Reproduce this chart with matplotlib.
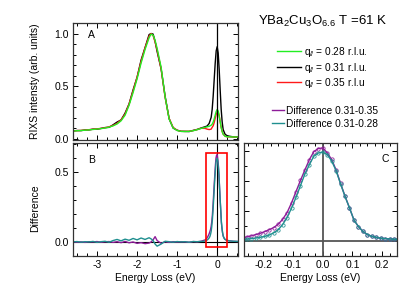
import numpy as np
import matplotlib
matplotlib.use("Agg")
import matplotlib.pyplot as plt
from matplotlib.lines import Line2D
from matplotlib.patches import Rectangle
from matplotlib.ticker import MultipleLocator

plt.rcParams["font.family"] = ["Liberation Sans", "DejaVu Sans"]
plt.rcParams["mathtext.fontset"] = "custom"
plt.rcParams["mathtext.rm"] = "Liberation Sans"
plt.rcParams["mathtext.it"] = "Liberation Sans:italic"

# energy loss grid, wide part (eV)
e_wide = [-3.6, -3.5, -3.4, -3.3, -3.2, -3.1, -3.0, -2.9, -2.8, -2.7, -2.6, -2.5,
          -2.4, -2.3, -2.2, -2.1, -2.0, -1.9, -1.8, -1.7, -1.65, -1.6, -1.55, -1.5,
          -1.4, -1.3, -1.2, -1.1, -1.0, -0.9, -0.8, -0.7, -0.6, -0.5, -0.4]
# spectra near the elastic line
e_spec_peak = [-0.3, -0.25, -0.2, -0.15, -0.125, -0.1, -0.075, -0.05, -0.025, 0.0,
               0.025, 0.05, 0.075, 0.1, 0.125, 0.15, 0.2, 0.25, 0.3, 0.4, 0.52]

q028_wide = [0.075, 0.078, 0.080, 0.083, 0.086, 0.090, 0.094, 0.098, 0.104, 0.112, 0.124, 0.142,
             0.172, 0.225, 0.320, 0.440, 0.570, 0.720, 0.850, 0.960, 0.995, 0.985, 0.935, 0.860,
             0.680, 0.400, 0.190, 0.105, 0.080, 0.072, 0.070, 0.072, 0.078, 0.088, 0.100]
q028_peak = [0.110, 0.115, 0.120, 0.130, 0.140, 0.160, 0.190, 0.225, 0.260, 0.280,
             0.265, 0.220, 0.165, 0.110, 0.070, 0.045, 0.025, 0.021, 0.020, 0.019, 0.019]

q031_wide = [0.076, 0.080, 0.079, 0.085, 0.086, 0.093, 0.092, 0.100, 0.108, 0.110, 0.134, 0.160,
             0.180, 0.245, 0.332, 0.465, 0.585, 0.748, 0.868, 0.990, 1.000, 0.995, 0.925, 0.830,
             0.665, 0.405, 0.192, 0.103, 0.083, 0.072, 0.072, 0.070, 0.081, 0.090, 0.104]
q031_peak = [0.116, 0.123, 0.147, 0.205, 0.280, 0.405, 0.560, 0.715, 0.835, 0.875,
             0.815, 0.660, 0.463, 0.280, 0.160, 0.088, 0.043, 0.031, 0.026, 0.020, 0.019]

q035_wide = [0.076, 0.079, 0.081, 0.084, 0.088, 0.092, 0.096, 0.100, 0.106, 0.115, 0.128, 0.148,
             0.180, 0.235, 0.330, 0.455, 0.585, 0.735, 0.865, 0.975, 1.000, 0.980, 0.920, 0.845,
             0.665, 0.395, 0.195, 0.110, 0.082, 0.073, 0.071, 0.073, 0.079, 0.089, 0.101]
q035_peak = [0.100, 0.093, 0.089, 0.093, 0.110, 0.125, 0.155, 0.195, 0.235, 0.253,
             0.255, 0.220, 0.163, 0.110, 0.070, 0.045, 0.025, 0.020, 0.020, 0.019, 0.019]

# difference spectra, fine grid around zero loss
e_diff_peak = [-0.300, -0.285, -0.270, -0.255, -0.240, -0.225, -0.210, -0.195, -0.180, -0.165,
               -0.150, -0.135, -0.120, -0.105, -0.090, -0.075, -0.060, -0.045, -0.030, -0.015,
               0.000, 0.015, 0.030, 0.045, 0.060, 0.075, 0.090, 0.105, 0.120, 0.135,
               0.150, 0.165, 0.180, 0.195, 0.210, 0.225, 0.240, 0.255, 0.270, 0.285, 0.300,
               0.4, 0.52]

d3135_wide = [0.002, -0.002, 0.001, -0.003, 0.002, 0.000, 0.003, -0.002, 0.001, 0.003, -0.003, 0.002,
              -0.005, 0.004, -0.006, 0.000, -0.010, -0.005, -0.012, -0.008, 0.000, 0.015, 0.038, 0.010,
              -0.010, 0.002, -0.003, 0.002, -0.001, 0.002, 0.000, -0.002, 0.003, 0.001, 0.005]
d3135_peak = [0.015, 0.018, 0.022, 0.028, 0.035, 0.043, 0.052, 0.063, 0.076, 0.090,
              0.112, 0.145, 0.190, 0.255, 0.330, 0.405, 0.475, 0.544, 0.597, 0.618,
              0.622, 0.590, 0.545, 0.475, 0.385, 0.300, 0.222, 0.141, 0.097, 0.065,
              0.043, 0.032, 0.024, 0.019, 0.016, 0.014, 0.012, 0.011, 0.010, 0.009, 0.008,
              0.005, 0.003]

d3128_wide = [0.000, 0.003, -0.002, 0.002, 0.000, 0.004, -0.003, 0.002, 0.005, -0.002, 0.010, 0.018,
              0.008, 0.020, 0.012, 0.025, 0.015, 0.028, 0.018, 0.030, 0.022, 0.010, -0.015, -0.030,
              -0.015, 0.005, 0.002, -0.002, 0.003, 0.000, 0.002, -0.002, 0.003, 0.002, 0.004]
d3128_peak = [0.006, 0.008, 0.010, 0.013, 0.016, 0.020, 0.025, 0.031, 0.040, 0.055,
              0.075, 0.110, 0.157, 0.220, 0.292, 0.370, 0.448, 0.510, 0.567, 0.588,
              0.595, 0.578, 0.535, 0.470, 0.382, 0.298, 0.222, 0.141, 0.097, 0.065,
              0.043, 0.032, 0.024, 0.019, 0.016, 0.014, 0.012, 0.011, 0.010, 0.009, 0.008,
              0.005, 0.004]

e_spec = np.array(e_wide + e_spec_peak)
e_diff = np.array(e_wide + e_diff_peak)
q028 = np.array(q028_wide + q028_peak)
q031 = np.array(q031_wide + q031_peak)
q035 = np.array(q035_wide + q035_peak)
d3135 = np.array(d3135_wide + d3135_peak)
d3128 = np.array(d3128_wide + d3128_peak)

c_green = "#22ee22"
c_red = "#ff1a1a"
c_purple = "#8e1c99"
c_teal = "#1f8f8f"

fs = 7.5
W, H = 415, 294
fig = plt.figure(figsize=(W / 100, H / 100), dpi=100)


def box(l, t, r, b):
    return [l / W, 1 - b / H, (r - l) / W, (b - t) / H]


axA = fig.add_axes(box(73, 23, 238, 140))
axB = fig.add_axes(box(73, 143, 238, 256))
axC = fig.add_axes(box(244, 143, 397, 256))

for ax in (axA, axB, axC):
    ax.tick_params(which="both", direction="in", top=True, right=True, labelsize=fs,
                   width=0.7, pad=3)
    ax.tick_params(which="major", length=3.5)
    ax.tick_params(which="minor", length=2)
    for s in ax.spines.values():
        s.set_linewidth(0.9)
        s.set_color("#333333")

# panel A
axA.plot(e_spec, q031, color="black", lw=1.0)
axA.plot(e_spec, q035, color=c_red, lw=1.0)
axA.plot(e_spec, q028, color=c_green, lw=1.0)
axA.axvline(0, color="black", lw=0.9)
axA.set_xlim(-3.6, 0.52)
axA.set_ylim(-0.01, 1.1)
axA.xaxis.set_major_locator(MultipleLocator(1))
axA.xaxis.set_minor_locator(MultipleLocator(0.25))
axA.yaxis.set_minor_locator(MultipleLocator(0.1))
axA.set_yticks([0, 0.5, 1.0], ["0.0", "0.5", "1.0"])
axA.tick_params(labelbottom=False)
axA.set_ylabel("RIXS intensty (arb. units)", fontsize=fs)
axA.yaxis.set_label_coords(-0.2, 0.5)
axA.text(0.09, 0.87, "A", transform=axA.transAxes, fontsize=fs)

# panel B
axB.axhline(0, color="black", lw=0.8)
axB.axvline(0, color="black", lw=0.8)
axB.plot(e_diff, d3135, color=c_purple, lw=1.0)
axB.plot(e_diff, d3128, color=c_teal, lw=1.0)
axB.add_patch(Rectangle((-0.275, -0.038), 0.525, 0.674, fill=False,
                        edgecolor="red", lw=1.2, zorder=5))
axB.set_xlim(-3.6, 0.52)
axB.set_ylim(-0.1, 0.705)
axB.xaxis.set_minor_locator(MultipleLocator(0.25))
axB.set_yticks([0, 0.5], ["0.0", "0.5"])
axB.yaxis.set_minor_locator(MultipleLocator(0.1))
axB.set_xticks([-3, -2, -1, 0], ["-3", "-2", "-1", "0"])
axB.set_xlabel("Energy Loss (eV)", fontsize=fs, labelpad=2)
axB.set_ylabel("Difference", fontsize=fs)
axB.yaxis.set_label_coords(-0.2, 0.42)
axB.text(0.09, 0.82, "B", transform=axB.transAxes, fontsize=fs)

# panel C
axC.axhline(0, color="#555555", lw=1.3)
axC.axvline(0, color="#555555", lw=1.3)
axC.plot(e_diff, d3135, color=c_purple, lw=1.0, marker="o", ms=2.4,
         mfc="none", mew=0.55)
axC.plot(e_diff, d3128, color=c_teal, lw=1.0, marker="o", ms=2.4,
         mfc="none", mew=0.55)
axC.set_xlim(-0.265, 0.25)
axC.set_ylim(-0.1, 0.655)
axC.set_xticks([-0.2, -0.1, 0.0, 0.1, 0.2], ["-0.2", "-0.1", "0.0", "0.1", "0.2"])
axC.xaxis.set_minor_locator(MultipleLocator(0.025))
axC.yaxis.set_major_locator(MultipleLocator(0.2))
axC.yaxis.set_minor_locator(MultipleLocator(0.1))
axC.tick_params(labelleft=False)
axC.set_xlabel("Energy Loss (eV)", fontsize=fs, labelpad=2)
axC.text(0.9, 0.83, "C", transform=axC.transAxes, fontsize=fs)

# title and legends
fig.text(323 / W, 1 - 21 / H, r"YBa$_2$Cu$_3$O$_{6.6}$ T =61 K", fontsize=9.5,
         ha="center", va="center")

h1 = [Line2D([], [], color=c_green, lw=1.0),
      Line2D([], [], color="black", lw=1.0),
      Line2D([], [], color=c_red, lw=1.0)]
l1 = [r"q$_{/\!/}$ = 0.28 r.l.u.", r"q$_{/\!/}$ = 0.31 r.l.u.", r"q$_{/\!/}$ = 0.35 r.l.u"]
fig.legend(h1, l1, loc="upper left", bbox_to_anchor=(277 / W, 1 - 45 / H),
           frameon=False, fontsize=7.3, handlelength=2.4, handletextpad=0.25,
           labelspacing=0.15, borderpad=0, borderaxespad=0)

h2 = [Line2D([], [], color=c_purple, lw=1.0),
      Line2D([], [], color=c_teal, lw=1.0)]
l2 = ["Difference 0.31-0.35", "Difference 0.31-0.28"]
fig.legend(h2, l2, loc="upper left", bbox_to_anchor=(272 / W, 1 - 106 / H),
           frameon=False, fontsize=7.3, handlelength=1.2, handletextpad=0.2,
           labelspacing=0.3, borderpad=0, borderaxespad=0)

fig.savefig("out.png", dpi=100)
